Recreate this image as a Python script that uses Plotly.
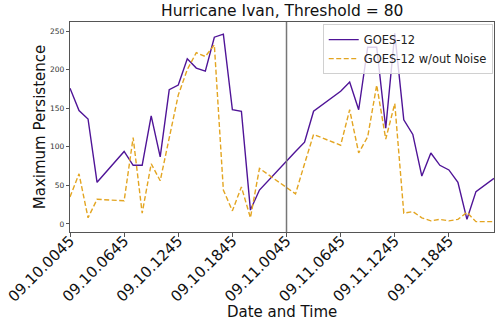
import plotly.graph_objects as go

# hours since 09.10.0045 (some hours have no data)
hours = [0, 1, 2, 3, 6, 7, 8, 9, 10, 11, 12, 13, 14, 15, 16, 17, 18, 19, 20, 21,
         25, 26, 27, 30, 31, 32, 33, 34, 35, 36, 37, 38, 39, 40, 41, 42, 43, 44, 45, 47]
goes12 = [176, 147, 136, 54, 94, 76, 76, 140, 87, 174, 180, 214, 202, 198, 242, 246, 148, 146, 18, 44,
          94, 106, 146, 172, 184, 148, 229, 229, 124, 247, 135, 116, 62, 92, 76, 70, 54, 6, 42, 59]
goes12_no_noise = [35, 65, 8, 32, 30, 112, 14, 78, 56, 112, 167, 200, 222, 217, 232, 44, 17, 48, 8, 72,
                   39, 78, 116, 102, 148, 92, 113, 180, 110, 156, 14, 16, 8, 4, 6, 4, 6, 15, 3, 3]
tick_hours = [0, 6, 12, 18, 24, 30, 36, 42]
tick_labels = ["09.10.0045", "09.10.0645", "09.10.1245", "09.10.1845",
               "09.11.0045", "09.11.0645", "09.11.1245", "09.11.1845"]
day_split = 24

font = "DejaVu Sans"
spine = "#555555"

M_L, M_T = 70, 22
PLOT_W, PLOT_H = 424, 210
M_R = 500 - M_L - PLOT_W
M_B = 324 - M_T - PLOT_H

fig = go.Figure()
fig.add_trace(go.Scatter(
    x=hours, y=goes12, mode="lines", name="GOES-12",
    line=dict(color="#4f1497", width=1.4),
))
fig.add_trace(go.Scatter(
    x=hours, y=goes12_no_noise, mode="lines", name="GOES-12 w/out Noise",
    line=dict(color="#e3a521", width=1.4, dash="5px,2.5px"),
))

# vertical marker at start of second day
fig.add_vline(x=day_split, line=dict(color="#777777", width=1.5))

# titles placed as annotations (paper coords)
fig.add_annotation(
    text="Hurricane Ivan, Threshold = 80", xref="paper", yref="paper",
    x=0.5, y=1 + 10.5 / PLOT_H, xanchor="center", yanchor="middle",
    showarrow=False, font=dict(size=15.5, color="#111111"),
)
fig.add_annotation(
    text="Date and Time", xref="paper", yref="paper",
    x=0.5, y=-80 / PLOT_H, xanchor="center", yanchor="middle",
    showarrow=False, font=dict(size=15, color="#111111"),
)

fig.update_layout(
    width=500,
    height=324,
    margin=dict(l=M_L, r=M_R, t=M_T, b=M_B, autoexpand=False),
    paper_bgcolor="white",
    plot_bgcolor="white",
    font=dict(family=font, color="#222222"),
    legend=dict(
        x=0.997, y=0.99, xanchor="right", yanchor="top",
        bgcolor="rgba(255,255,255,0.8)",
        bordercolor="#d0d0d0", borderwidth=1,
        font=dict(size=11.5, color="#222222"),
        tracegroupgap=0, itemwidth=30,
    ),
    showlegend=True,
)

fig.update_xaxes(
    range=[0, 47], automargin=False,
    tickmode="array", tickvals=tick_hours, ticktext=tick_labels,
    tickangle=-45, tickfont=dict(size=15, color="#111111"),
    ticks="outside", ticklen=4, tickcolor=spine,
    ticklabelstandoff=-11,
    showgrid=False, zeroline=False,
    showline=True, linecolor=spine, linewidth=1.2, mirror=True,
)
fig.update_yaxes(
    range=[-10.4, 261.7], automargin=False,
    tickmode="array", tickvals=[0, 50, 100, 150, 200, 250],
    tickfont=dict(size=7.5, color="#333333"),
    ticks="outside", ticklen=3, tickcolor=spine,
    showgrid=False, zeroline=False,
    showline=True, linecolor=spine, linewidth=1.2, mirror=True,
    title=dict(text="Maximum Persistence", font=dict(size=15, color="#111111"), standoff=0),
)

# drop the browser's default 8px body margin so the figure sits at the page corner
fig.write_html(
    "out.html",
    config={"displayModeBar": False},
    post_script="document.body.style.margin = '0';",
)
